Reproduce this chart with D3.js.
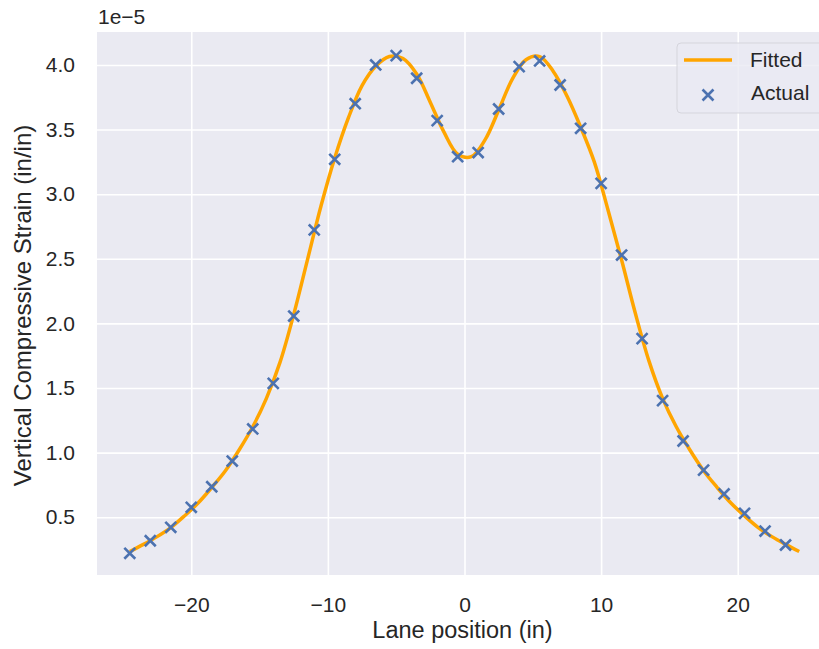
<!DOCTYPE html>
<html lang="en">
<head>
    <meta charset="UTF-8">
    <title>Vertical Compressive Strain</title>
    <script src="https://d3js.org/d3.v7.min.js"></script>
    <style>
        body { margin: 0; background: #fff; }
        text { font-family: "Liberation Sans", Arial, sans-serif; fill: #262626; }
    </style>
</head>
<body>
    <div id="chart"></div>
    <script>
        // Measured points (strain in units of 1e-5)
        const actualX = [-24.5, -23, -21.5, -20, -18.5, -17, -15.5, -14, -12.5, -11, -9.5, -8, -6.5, -5, -3.5, -2,
                         -0.5, 1, 2.5, 4, 5.5, 7, 8.5, 10, 11.5, 13, 14.5, 16, 17.5, 19, 20.5, 22, 23.5];
        const actualY = [0.221, 0.318, 0.422, 0.577, 0.736, 0.935, 1.183, 1.536, 2.057, 2.723, 3.27, 3.70, 4.00, 4.072, 3.897, 3.569,
                         3.29, 3.322, 3.659, 3.987, 4.031, 3.845, 3.51, 3.084, 2.529, 1.882, 1.402, 1.09, 0.865, 0.68, 0.53, 0.393, 0.285];

        // Fitted curve, read at 1 inch steps
        const fitX = [-24.5, -23.5, -22.5, -21.5, -20.5, -19.5, -18.5, -17.5, -16.5, -15.5, -14.5, -13.5, -12.5, -11.5, -10.5, -9.5,
                      -8.5, -7.5, -6.5, -5.5, -4.5, -3.5, -2.5, -1.5, -0.5, 0.5, 1.5, 2.5, 3.5, 4.5, 5.5, 6.5, 7.5, 8.5, 9.5,
                      10.5, 11.5, 12.5, 13.5, 14.5, 15.5, 16.5, 17.5, 18.5, 19.5, 20.5, 21.5, 22.5, 23.5, 24.5];
        const fitY = [0.235, 0.29, 0.35, 0.42, 0.51, 0.61, 0.73, 0.86, 1.02, 1.20, 1.42, 1.70, 2.07, 2.49, 2.91, 3.28,
                      3.59, 3.84, 3.99, 4.065, 4.05, 3.93, 3.71, 3.48, 3.31, 3.29, 3.42, 3.65, 3.89, 4.04, 4.065, 3.95, 3.76, 3.52, 3.25,
                      2.88, 2.49, 2.08, 1.71, 1.42, 1.20, 1.02, 0.86, 0.73, 0.61, 0.51, 0.42, 0.35, 0.29, 0.235];

        const xTicks = [-20, -10, 0, 10, 20];
        const yTicks = [0.5, 1.0, 1.5, 2.0, 2.5, 3.0, 3.5, 4.0];

        const ancho = 819, alto = 649;
        const m = { izq: 97, arriba: 32, der: 832, abajo: 575 };

        const svg = d3.select("#chart").append("svg")
            .attr("width", ancho)
            .attr("height", alto);

        const x = d3.scaleLinear().domain([-26.9, 26.9]).range([m.izq, m.der]);
        const y = d3.scaleLinear().domain([0.053, 4.255]).range([m.abajo, m.arriba]);

        // plot background
        svg.append("rect")
            .attr("x", m.izq).attr("y", m.arriba)
            .attr("width", m.der - m.izq).attr("height", m.abajo - m.arriba)
            .attr("fill", "#eaeaf2");

        // x grid + labels
        const gx = svg.append("g")
            .attr("transform", `translate(0,${m.abajo})`)
            .call(d3.axisBottom(x).tickValues(xTicks).tickSize(-(m.abajo - m.arriba)).tickFormat(d3.format("d")));
        gx.select(".domain").remove();
        gx.selectAll("line").attr("stroke", "#fff").attr("stroke-width", 1.6);
        gx.selectAll("text").attr("y", 37).attr("dy", null)
            .style("font-size", "21px").attr("fill", "#262626");

        // y grid + labels
        const gy = svg.append("g")
            .attr("transform", `translate(${m.izq},0)`)
            .call(d3.axisLeft(y).tickValues(yTicks).tickSize(-(m.der - m.izq)).tickPadding(22).tickFormat(d3.format(".1f")));
        gy.select(".domain").remove();
        gy.selectAll("line").attr("stroke", "#fff").attr("stroke-width", 1.6);
        gy.selectAll("text").style("font-size", "21px").attr("fill", "#262626");

        // offset label
        svg.append("text")
            .attr("x", 98).attr("y", 24)
            .style("font-size", "21px")
            .text("1e\u22125");

        // axis titles
        svg.append("text")
            .attr("x", (m.izq + m.der) / 2 - 2).attr("y", 638)
            .attr("text-anchor", "middle")
            .style("font-size", "23.5px")
            .text("Lane position (in)");

        svg.append("text")
            .attr("transform", `translate(31,${(m.arriba + m.abajo) / 2 + 2}) rotate(-90)`)
            .attr("text-anchor", "middle")
            .style("font-size", "24px")
            .text("Vertical Compressive Strain (in/in)");

        // fitted line
        const linea = d3.line()
            .x((d, i) => x(fitX[i]))
            .y(d => y(d))
            .curve(d3.curveCatmullRom);

        svg.append("path")
            .datum(fitY)
            .attr("d", linea)
            .attr("fill", "none")
            .attr("stroke", "#ffa500")
            .attr("stroke-width", 3.5);

        // actual markers (x shape)
        const cruz = d3.symbol().type(d3.symbolX).size(80);
        svg.append("g").selectAll("path")
            .data(actualY)
            .join("path")
            .attr("d", cruz)
            .attr("transform", (d, i) => `translate(${x(actualX[i])},${y(d)})`)
            .attr("fill", "none")
            .attr("stroke", "#4c72b0")
            .attr("stroke-width", 2.6);

        // legend
        const leyenda = svg.append("g");
        leyenda.append("rect")
            .attr("x", 677).attr("y", 43)
            .attr("width", 160).attr("height", 70)
            .attr("rx", 4)
            .attr("fill", "#eaeaf2").attr("fill-opacity", 0.8)
            .attr("stroke", "#d5d5dc").attr("stroke-width", 1);
        leyenda.append("line")
            .attr("x1", 684).attr("x2", 732)
            .attr("y1", 60).attr("y2", 60)
            .attr("stroke", "#ffa500").attr("stroke-width", 3.5);
        leyenda.append("path")
            .attr("d", cruz)
            .attr("transform", "translate(708,95)")
            .attr("fill", "none")
            .attr("stroke", "#4c72b0")
            .attr("stroke-width", 2.6);
        leyenda.append("text")
            .attr("x", 750).attr("y", 67)
            .style("font-size", "21px")
            .text("Fitted");
        leyenda.append("text")
            .attr("x", 751).attr("y", 100)
            .style("font-size", "21px")
            .text("Actual");
    </script>
</body>
</html>
